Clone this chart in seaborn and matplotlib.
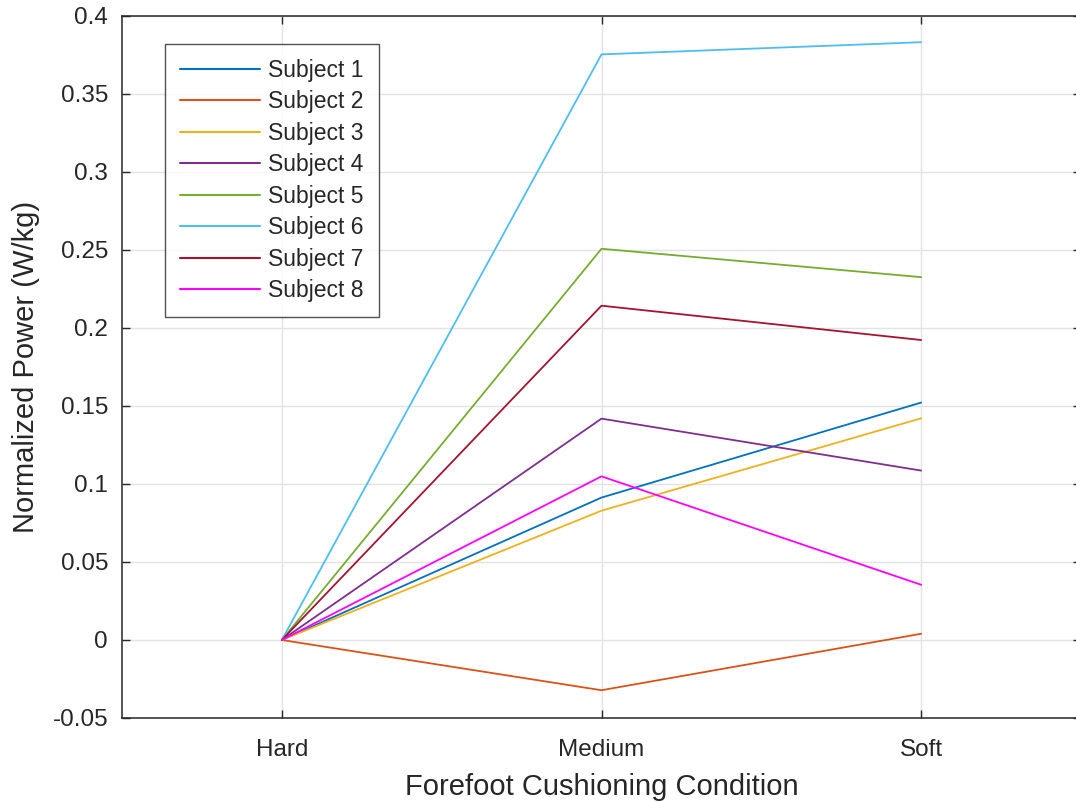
import matplotlib
matplotlib.use("Agg")
import matplotlib.pyplot as plt
import seaborn as sns
import pandas as pd

conditions = ["Hard", "Medium", "Soft"]
subjects = [f"Subject {i}" for i in range(1, 9)]
subject_1 = [0.0, 0.0913, 0.1522]
subject_2 = [0.0, -0.0322, 0.0040]
subject_3 = [0.0, 0.0829, 0.1421]
subject_4 = [0.0, 0.1419, 0.1086]
subject_5 = [0.0, 0.2508, 0.2326]
subject_6 = [0.0, 0.3754, 0.3832]
subject_7 = [0.0, 0.2143, 0.1923]
subject_8 = [0.0, 0.1049, 0.0354]
yticks = [-0.05, 0, 0.05, 0.1, 0.15, 0.2, 0.25, 0.3, 0.35, 0.4]
ytick_labels = ["-0.05", "0", "0.05", "0.1", "0.15", "0.2", "0.25", "0.3", "0.35", "0.4"]

series = [subject_1, subject_2, subject_3, subject_4,
          subject_5, subject_6, subject_7, subject_8]
rows = []
for name, vals in zip(subjects, series):
    for cond, v in zip(conditions, vals):
        rows.append({"Condition": cond, "Power": v, "Subject": name})
df = pd.DataFrame(rows)

palette = ["#0072BD", "#D95319", "#EDB120", "#7E2F8E",
           "#77AC30", "#4DBEEE", "#A2142F", "#FF00FF"]

sns.set_theme(style="white")
plt.rcParams["font.family"] = ["Liberation Sans", "DejaVu Sans"]
text_color = "#262626"

fig = plt.figure(figsize=(10.76, 8.02), dpi=100)
ax = fig.add_axes([122 / 1076, 84 / 802, 959 / 1076, 702 / 802])

sns.lineplot(data=df, x="Condition", y="Power", hue="Subject",
             palette=palette, sort=False, linewidth=1.3, ax=ax,
             estimator=None)

ax.set_xlim(-0.5, 2.5)
ax.set_ylim(-0.05, 0.4)
ax.set_yticks(yticks)
ax.set_yticklabels(ytick_labels)
ax.set_xticks(range(len(conditions)))
ax.set_xticklabels(conditions)

ax.grid(True, color="#e3e3e3", linewidth=1.0)
ax.set_axisbelow(True)
for side in ["left", "bottom", "top", "right"]:
    ax.spines[side].set_visible(True)
    ax.spines[side].set_color(text_color)
    ax.spines[side].set_linewidth(1.1)

ax.tick_params(axis="both", direction="in", length=6, width=1.0,
               colors=text_color, labelsize=17.5, top=True, right=True,
               bottom=True, left=True)
ax.tick_params(axis="y", pad=10)
ax.tick_params(axis="x", pad=15)

ax.set_xlabel("Forefoot Cushioning Condition", fontsize=21, color=text_color, labelpad=9)
ax.set_ylabel("Normalized Power (W/kg)", fontsize=21, color=text_color, labelpad=9)

leg = ax.legend(loc="upper left", bbox_to_anchor=(43 / 959, 1 - 28 / 702),
                fontsize=16.5, frameon=True, fancybox=False, edgecolor=text_color,
                borderpad=0.65, labelspacing=0.37, handlelength=3.5,
                handletextpad=0.35, borderaxespad=0)
leg.get_frame().set_linewidth(1.0)
for t in leg.get_texts():
    t.set_color(text_color)
for line in leg.get_lines():
    line.set_linewidth(1.5)

fig.savefig("out.png", dpi=100)
